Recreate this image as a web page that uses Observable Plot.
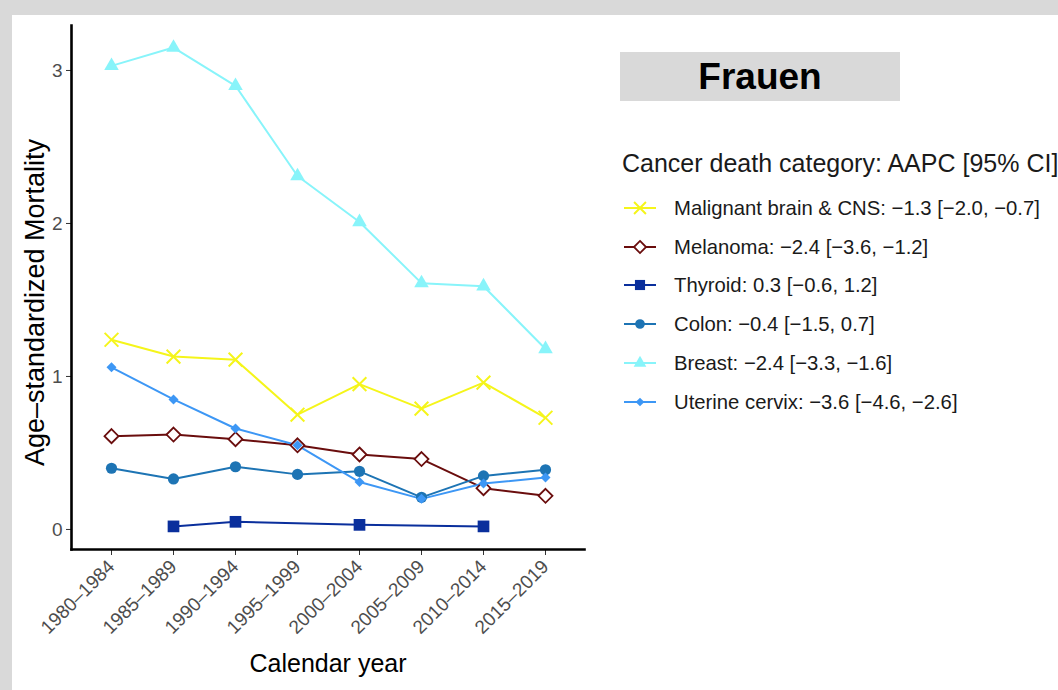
<!DOCTYPE html>
<html>
<head>
<meta charset="utf-8">
<script src="https://cdn.jsdelivr.net/npm/d3@7"></script>
<script src="https://cdn.jsdelivr.net/npm/@observablehq/plot@0.6"></script>
<style>
  html, body { margin: 0; padding: 0; }
  body { width: 1058px; height: 690px; background: #d9d9d9; position: relative; overflow: hidden;
         font-family: "Liberation Sans", Arial, sans-serif; }
  #panel { position: absolute; left: 12px; top: 15px; width: 1046px; height: 675px; background: #fff; }
  #chart { position: absolute; left: 0; top: 0; }
  #frauen { position: absolute; left: 608px; top: 37px; width: 280px; height: 49px; background: #d9d9d9;
            font-weight: bold; font-size: 37px; text-align: center; line-height: 50px; color: #000; }
  #ltitle { position: absolute; left: 610px; top: 133px; font-size: 25px; line-height: 30px; color: #1a1a1a; white-space: nowrap; }
  .item { position: absolute; left: 610px; height: 24px; display: flex; align-items: center; white-space: nowrap; }
  .item svg { width: 36px; height: 24px; margin-right: 16px; }
  .item span { font-size: 20.3px; color: #1a1a1a; }
  #chart svg g[aria-label$="tick label"] text { fill: #4d4d4d; font-size: 19px; }
</style>
</head>
<body>
<div id="panel">
  <div id="chart"></div>
  <div id="frauen">Frauen</div>
  <div id="ltitle">Cancer death category: AAPC [95% CI]</div>
  <div id="legend"></div>
</div>
<script>
const periods = ["1980–1984","1985–1989","1990–1994","1995–1999","2000–2004","2005–2009","2010–2014","2015–2019"];
const brain    = [1.24, 1.13, 1.11, 0.75, 0.95, 0.79, 0.96, 0.73];
const melanoma = [0.61, 0.62, 0.59, 0.55, 0.49, 0.46, 0.27, 0.22];
const thyroid  = [null, 0.02, 0.05, null, 0.03, null, 0.02, null];
const colon    = [0.40, 0.33, 0.41, 0.36, 0.38, 0.21, 0.35, 0.39];
const breast   = [3.03, 3.15, 2.90, 2.31, 2.01, 1.61, 1.59, 1.18];
const cervix   = [1.06, 0.85, 0.66, 0.55, 0.31, 0.20, 0.30, 0.34];
const seriesLabels = [
  "Malignant brain & CNS: −1.3 [−2.0, −0.7]",
  "Melanoma: −2.4 [−3.6, −1.2]",
  "Thyroid: 0.3 [−0.6, 1.2]",
  "Colon: −0.4 [−1.5, 0.7]",
  "Breast: −2.4 [−3.3, −1.6]",
  "Uterine cervix: −3.6 [−4.6, −2.6]"
];
const yTicks = [0, 1, 2, 3];

const styles = [
  {values: brain,    color: "#f5f51a", symbol: "times",    r: 6.3, fill: "none",   stroke: "#f5f51a", sw: 2},
  {values: melanoma, color: "#6a0d0d", symbol: "diamond2", r: 6.3, fill: "white",  stroke: "#6a0d0d", sw: 1.8},
  {values: thyroid,  color: "#0a2f9c", symbol: "square",   r: 6.6, fill: "#0a2f9c", stroke: "none", sw: 0},
  {values: colon,    color: "#1d74b4", symbol: "circle",   r: 5.6, fill: "#1d74b4", stroke: "none", sw: 0},
  {values: breast,   color: "#88f4fa", symbol: "triangle", r: 5.4, fill: "#88f4fa", stroke: "none", sw: 0},
  {values: cervix,   color: "#3d97f5", symbol: "diamond2", r: 4.5, fill: "#3d97f5", stroke: "none", sw: 0}
];

const series = styles.map((s, i) => ({...s, label: seriesLabels[i],
  data: periods.map((p, j) => ({period: p, value: s.values[j]})).filter(d => d.value != null)}));

const marks = [];
for (const s of series) {
  marks.push(Plot.line(s.data, {x: "period", y: "value", stroke: s.color, strokeWidth: 2}));
}
for (const s of series) {
  marks.push(Plot.dot(s.data, {x: "period", y: "value", symbol: () => s.symbol, r: s.r,
    fill: s.fill, stroke: s.stroke, strokeWidth: s.sw}));
}
marks.push(Plot.frame({anchor: "left", stroke: "#000", strokeWidth: 2.6}));
marks.push(Plot.frame({anchor: "bottom", stroke: "#000", strokeWidth: 2.6}));
marks.push(Plot.text(["Calendar year"], {frameAnchor: "bottom", lineAnchor: "middle", dy: 114, fontSize: 25, fill: "#000"}));
marks.push(Plot.text(["Age–standardized Mortality"], {frameAnchor: "left", textAnchor: "middle", lineAnchor: "middle",
  dx: -36, dy: 15, rotate: -90, fontSize: 27, fill: "#000"}));

const chart = Plot.plot({
  width: 1046, height: 675,
  marginLeft: 59, marginTop: 10, marginRight: 474, marginBottom: 141,
  style: {fontFamily: "Liberation Sans, Arial, sans-serif", fontSize: "18px", background: "transparent", color: "#333"},
  x: {type: "point", domain: periods, padding: 0.61, tickRotate: -45, tickSize: 6, tickPadding: 8, label: null},
  y: {domain: [-0.131, 3.294], ticks: yTicks, tickSize: 5, tickPadding: 4, tickFormat: d3.format("d"), label: null},
  marks
});
document.getElementById("chart").appendChild(chart);

// legend
const legend = document.getElementById("legend");
const ys = [193, 232, 270, 309, 348, 387];
const symMap = {times: d3.symbolTimes, diamond2: d3.symbolDiamond2, square: d3.symbolSquare,
                circle: d3.symbolCircle, triangle: d3.symbolTriangle, diamond: d3.symbolDiamond};
series.forEach((s, i) => {
  const div = document.createElement("div");
  div.className = "item";
  div.style.top = (ys[i] - 12) + "px";
  const svg = d3.create("svg").attr("viewBox", "0 0 36 24");
  svg.append("line").attr("x1", 2).attr("x2", 34).attr("y1", 12).attr("y2", 12)
     .attr("stroke", s.color).attr("stroke-width", 2);
  svg.append("path").attr("transform", "translate(18,12)")
     .attr("d", d3.symbol(symMap[s.symbol], Math.PI * s.r * s.r * 0.75)())
     .attr("fill", s.fill).attr("stroke", s.stroke).attr("stroke-width", s.sw);
  div.appendChild(svg.node());
  const span = document.createElement("span");
  span.textContent = s.label;
  div.appendChild(span);
  legend.appendChild(div);
});
</script>
</body>
</html>
